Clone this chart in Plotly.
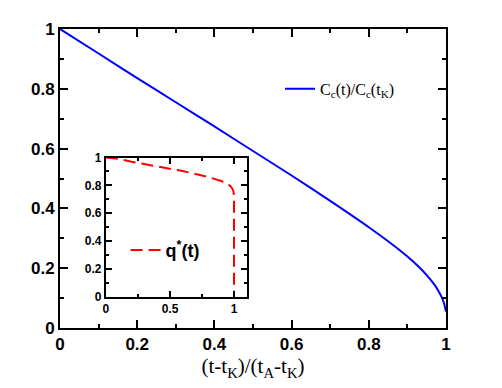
"""Decaimento de C_c(t)/C_c(t_K) com inset de q*(t)."""

import plotly.graph_objects as go

AZUL = "#0000FF"
VERMELHO = "#FF0000"
TINTA = "#000000"

# curva principal: C_c(t)/C_c(t_K)
tau = [0, 0.1, 0.2, 0.3, 0.4, 0.5, 0.6, 0.7, 0.8, 0.85, 0.9, 0.93,
       0.95, 0.97, 0.98, 0.99, 0.995, 1.0]
cc = [1.0, 0.918, 0.836, 0.755, 0.674, 0.592, 0.51, 0.425, 0.337, 0.29,
      0.239, 0.204, 0.177, 0.145, 0.125, 0.1, 0.082, 0.055]

# inset: q*(t)
tau_q = [0, 0.1, 0.2, 0.3, 0.4, 0.5, 0.6, 0.7, 0.8, 0.9, 0.94, 0.97,
         0.985, 0.995, 1.0, 1.0]
q = [1.0, 0.99, 0.97, 0.953, 0.938, 0.922, 0.903, 0.882, 0.86, 0.832,
     0.815, 0.797, 0.78, 0.76, 0.72, 0.0]

TICK = dict(family="Liberation Sans, Arial", size=17, color=TINTA, weight="bold")
TICK_IN = dict(family="Liberation Sans, Arial", size=12, color=TINTA, weight="bold")
SERIF = "Liberation Serif, Times New Roman"


def _eixo(**kw):
    base = dict(showline=True, linecolor=TINTA, linewidth=2, mirror="ticks",
                ticks="inside", tickcolor=TINTA, tickwidth=1.5,
                showgrid=False, zeroline=False)
    base.update(kw)
    return base


fig = go.Figure()
fig.add_scatter(x=tau, y=cc, mode="lines",
                line=dict(color=AZUL, width=2, shape="spline", smoothing=0.6),
                name="C<sub>c</sub>(t)/C<sub>c</sub>(t<sub>K</sub>)",
                legend="legend", showlegend=True)
fig.add_scatter(x=tau_q, y=q, mode="lines", xaxis="x2", yaxis="y2",
                line=dict(color=VERMELHO, width=2, dash="12px,6px"),
                name="<b>q<sup>*</sup>(t)</b>", legend="legend2", showlegend=True)

# a página tem 8px de margem no body: a figura é um pouco menor que a janela
fig.update_layout(
    width=494, height=380, showlegend=True,
    paper_bgcolor="white", plot_bgcolor="white",
    margin=dict(l=52, r=56, t=15, b=60),
    xaxis=_eixo(range=[0, 1], dtick=0.2, ticklen=8, tickfont=TICK,
                minor=dict(dtick=0.1, ticklen=4, ticks="inside", tickcolor=TINTA),
                title=dict(text="(t-t<sub>K</sub>)/(t<sub>A</sub>-t<sub>K</sub>)",
                           font=dict(family=SERIF, size=21, color=TINTA),
                           standoff=0)),
    yaxis=_eixo(range=[0, 1], dtick=0.2, ticklen=8, tickfont=TICK,
                minor=dict(dtick=0.1, ticklen=4, ticks="inside", tickcolor=TINTA)),
    xaxis2=_eixo(domain=[0.119, 0.484], anchor="y2", range=[0, 1.1],
                 dtick=0.5, ticklen=6, tickfont=TICK_IN,
                 minor=dict(dtick=0.25, ticklen=3, ticks="inside", tickcolor=TINTA)),
    yaxis2=_eixo(domain=[0.105, 0.570], anchor="x2", range=[0, 1],
                 dtick=0.2, ticklen=6, tickfont=TICK_IN,
                 minor=dict(dtick=0.1, ticklen=3, ticks="inside", tickcolor=TINTA)),
    legend=dict(x=0.57, y=0.80, xanchor="left", yanchor="middle",
                bgcolor="rgba(0,0,0,0)",
                font=dict(family=SERIF, size=16, color=TINTA)),
    legend2=dict(x=0.17, y=0.26, xanchor="left", yanchor="middle",
                 bgcolor="rgba(0,0,0,0)",
                 font=dict(family="Liberation Sans, Arial", size=18, color=TINTA)),
)

fig.write_html("out.html")
